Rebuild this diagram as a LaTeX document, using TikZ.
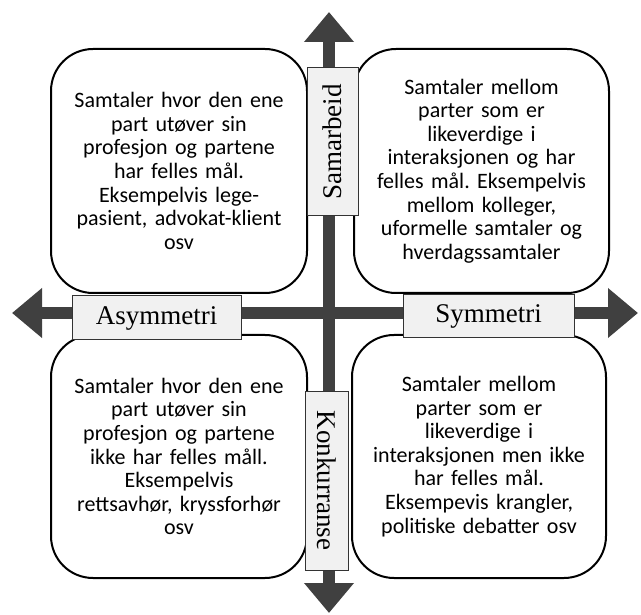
\documentclass[tikz,border=0pt]{standalone}
\usepackage{fontspec}
\setmainfont{Liberation Serif}
\newfontfamily\bodyfont{Carlito}
\usepackage{tikz}
\usetikzlibrary{arrows.meta}
\definecolor{axisgray}{HTML}{404040}
\definecolor{labelgray}{HTML}{F1F1F1}
\frenchspacing

\begin{document}
\begin{tikzpicture}[x=1pt, y=-1pt,
    quad/.style={draw, line width=2pt, fill=white, rounded corners=42pt, align=center,
      text width=236pt, font=\bodyfont\fontsize{22}{23.6}\selectfont},
    axislabel/.style={draw=black!80, line width=1pt, fill=labelgray, inner sep=0pt,
      font=\fontsize{27}{30}\selectfont},
    axisline/.style={axisgray, line width=12pt,
      {Triangle[length=30pt, width=48pt]}-{Triangle[length=30pt, width=48pt]}}]
                \useasboundingbox (0,0) rectangle (641,615);

                % Axes
                \coordinate (top) at (329,12);
                \coordinate (bottom) at (329,613);
                \coordinate (left) at (12,313);
                \coordinate (right) at (638,313);
                \draw[axisline] (top) -- (bottom);
                \draw[axisline] (left) -- (right);

                % Quadrants
                \node at (179,171) (tl) [quad, minimum width=256pt, minimum height=244pt]
                  {Samtaler hvor den ene\\part utøver sin\\profesjon og partene\\har felles mål.\\Eksempelvis lege-\\pasient, advokat-klient\\osv};
                \node at (481.5,171) (tr) [quad, minimum width=255pt, minimum height=244pt]
                  {Samtaler mellom\\parter som er\\likeverdige i\\interaksjonen og har\\felles mål. Eksempelvis\\mellom kolleger,\\uformelle samtaler og\\hverdagssamtaler};
                \node at (179,456.5) (bl) [quad, minimum width=256pt, minimum height=243pt]
                  {Samtaler hvor den ene\\part utøver sin\\profesjon og partene\\ikke har felles måll.\\Eksempelvis\\rettsavhør, kryssforhør\\osv};
                \node at (479,456.5) (br) [quad, minimum width=254pt, minimum height=243pt]
                  {Samtaler mellom\\parter som er\\likeverdige i\\interaksjonen men ikke\\har felles mål.\\Eksempevis krangler,\\politiske debatter osv};

                % Axis labels
                \node at (332.5,142) (coop) [axislabel, rotate=90, minimum width=148pt, minimum height=51pt] {Samarbeid};
                \node at (326.5,480.5) (comp) [axislabel, rotate=-90, minimum width=179pt, minimum height=43pt] {Konkurranse};
                \node at (156.5,318) (asym) [axislabel, minimum width=169pt, minimum height=44pt] {Asymmetri};
                \node at (488.5,316.5) (sym) [axislabel, minimum width=171pt, minimum height=43pt] {Symmetri};
\end{tikzpicture}
\end{document}
